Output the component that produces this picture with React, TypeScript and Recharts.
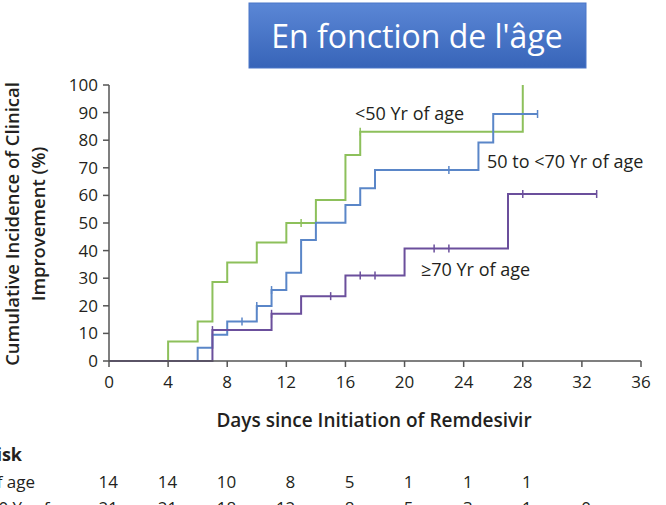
import { LineChart, Line, XAxis, YAxis } from "recharts";

const W = 666;
const H = 505;
const PLOT_LEFT = 109;
const PLOT_RIGHT = 641;
const FONT = "'Open Sans', sans-serif";

const xTicks = [0, 4, 8, 12, 16, 20, 24, 28, 32, 36];
const yTicks = [0, 10, 20, 30, 40, 50, 60, 70, 80, 90, 100];

// <50 yr
const youngDays = [0, 4, 6, 7, 8, 10, 12, 13, 14, 16, 17, 28];
const youngPct = [0, 7.1, 14.3, 28.6, 35.7, 42.9, 50, 50, 58.3, 74.6, 83.1, 100];
const youngCensored = [13, 17];

// 50 to <70 yr
const midDays = [0, 6, 7, 8, 9, 10, 11, 12, 13, 14, 16, 17, 18, 23, 25, 26, 29];
const midPct = [0, 4.8, 9.5, 14.3, 14.3, 19.9, 25.7, 32, 43.8, 50.1, 56.5, 62.6, 69.2, 69.2, 79.2, 89.5, 89.5];
const midCensored = [9, 10, 11, 23, 29];

// >=70 yr
const oldDays = [0, 7, 11, 13, 15, 16, 17, 18, 20, 22, 23, 27, 28, 33];
const oldPct = [0, 11.2, 17.1, 23.5, 23.5, 31, 31, 31, 40.8, 40.8, 40.8, 60.5, 60.5, 60.5];
const oldCensored = [7, 11, 15, 17, 18, 22, 23, 28, 33];

// numbers at risk
const riskDays = [0, 4, 8, 12, 16, 20, 24, 28, 32];
const riskYoung = [14, 14, 10, 8, 5, 1, 1, 1];
const riskMid = [21, 21, 18, 12, 8, 5, 3, 1, 0];

const GREEN = "#8dc05b";
const BLUE = "#5a86c8";
const PURPLE = "#6b4f9c";
const AXIS = "#555";
const TEXT = "#231f20";

const toRows = (days: number[], pct: number[], censored: number[]) =>
  days.map((d, i) => ({ day: d, pct: pct[i], censored: censored.includes(d) }));

const youngData = toRows(youngDays, youngPct, youngCensored);
const midData = toRows(midDays, midPct, midCensored);
const oldData = toRows(oldDays, oldPct, oldCensored);

const dayX = (d: number) => PLOT_LEFT + (d / 36) * (PLOT_RIGHT - PLOT_LEFT);

function CensorMark(props: any) {
  const { cx, cy, payload, stroke, index } = props;
  if (!payload || !payload.censored) return <g key={`n${index}`} />;
  return <line key={`c${index}`} x1={cx} x2={cx} y1={cy - 4} y2={cy + 4} stroke={stroke} strokeWidth={1.5} />;
}

export default function App() {
  const tickStyle = { fill: TEXT, fontSize: 17, fontFamily: FONT };
  return (
    <div style={{ position: "fixed", left: 0, top: 0, width: W, height: H, background: "#fff" }}>
      <LineChart width={W} height={H} margin={{ top: 85, right: W - PLOT_RIGHT, bottom: 114, left: 0 }}>
        <XAxis
          type="number"
          dataKey="day"
          domain={[0, 36]}
          ticks={xTicks}
          height={30}
          tickSize={6}
          tickMargin={9}
          axisLine={{ stroke: AXIS, strokeWidth: 1.5 }}
          tickLine={{ stroke: AXIS, strokeWidth: 1.5 }}
          tick={tickStyle}
        />
        <YAxis
          type="number"
          domain={[0, 100]}
          ticks={yTicks}
          width={PLOT_LEFT}
          tickSize={6}
          tickMargin={5}
          axisLine={{ stroke: AXIS, strokeWidth: 1.5 }}
          tickLine={{ stroke: AXIS, strokeWidth: 1.5 }}
          tick={tickStyle}
        />
        <Line data={youngData} dataKey="pct" type="stepAfter" stroke={GREEN} strokeWidth={2} dot={CensorMark} activeDot={false} isAnimationActive={false} />
        <Line data={midData} dataKey="pct" type="stepAfter" stroke={BLUE} strokeWidth={2} dot={CensorMark} activeDot={false} isAnimationActive={false} />
        <Line data={oldData} dataKey="pct" type="stepAfter" stroke={PURPLE} strokeWidth={2} dot={CensorMark} activeDot={false} isAnimationActive={false} />
      </LineChart>

      <svg width={W} height={H} style={{ position: "absolute", left: 0, top: 0, pointerEvents: "none" }} fontFamily={FONT}>
        <defs>
          <linearGradient id="titleFill" x1="0" y1="0" x2="0" y2="1">
            <stop offset="0%" stopColor="#5b87d6" />
            <stop offset="100%" stopColor="#3764b8" />
          </linearGradient>
        </defs>
        <rect x={249} y={3} width={337} height={65} fill="url(#titleFill)" stroke="#4a76c8" />
        <text x={417} y={48} textAnchor="middle" fill="#fff" fontSize={32}>En fonction de l'âge</text>

        <text transform="translate(19,224) rotate(-90)" textAnchor="middle" fontSize={18.5} fontWeight={600} fill={TEXT}>
          Cumulative Incidence of Clinical
        </text>
        <text transform="translate(45,224) rotate(-90)" textAnchor="middle" fontSize={18.5} fontWeight={600} fill={TEXT}>
          Improvement (%)
        </text>

        <text x={355} y={120} fontSize={18} fill={TEXT}>&lt;50 Yr of age</text>
        <text x={487} y={168} fontSize={18} fill={TEXT}>50 to &lt;70 Yr of age</text>
        <text x={421} y={276} fontSize={18} fill={TEXT}>≥70 Yr of age</text>

        <text x={374} y={427} textAnchor="middle" fontSize={19} fontWeight={600} fill={TEXT}>
          Days since Initiation of Remdesivir
        </text>

        <text x={22} y={461} textAnchor="end" fontSize={18} fontWeight={700} fill={TEXT}>No. at Risk</text>
        <text x={35} y={488} textAnchor="end" fontSize={17} fill={TEXT}>&lt;50 Yr of age</text>
        <text x={82} y={514} textAnchor="end" fontSize={17} fill={TEXT}>50 to &lt;70 Yr of age</text>
        {riskYoung.map((v, i) => (
          <text key={`ry${i}`} x={dayX(riskDays[i]) + 9} y={488} textAnchor="end" fontSize={17} fill={TEXT}>{v}</text>
        ))}
        {riskMid.map((v, i) => (
          <text key={`rm${i}`} x={dayX(riskDays[i]) + 9} y={514} textAnchor="end" fontSize={17} fill={TEXT}>{v}</text>
        ))}
      </svg>
    </div>
  );
}
